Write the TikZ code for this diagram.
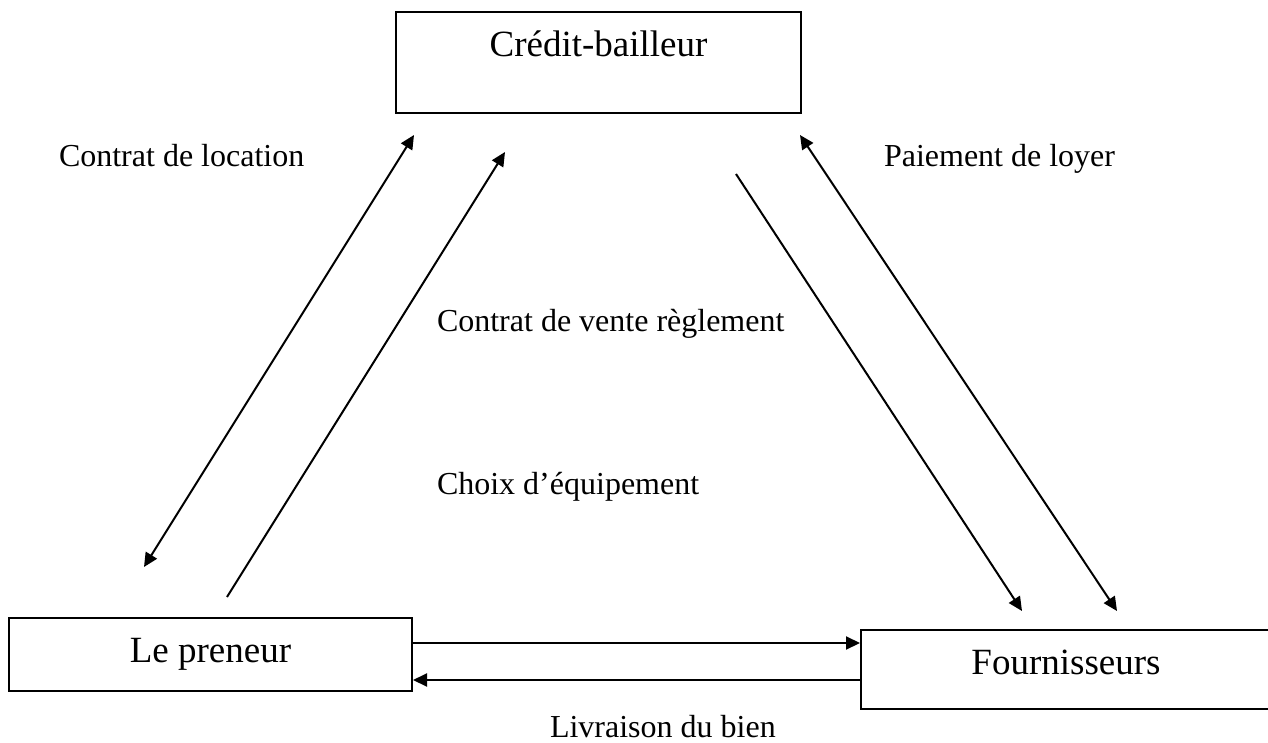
\documentclass[tikz,border=0pt]{standalone}
\usepackage{fontspec}
\setmainfont{Liberation Serif}
\usetikzlibrary{arrows.meta}
\begin{document}
\begin{tikzpicture}[x=0.5pt,y=-0.5pt,>={Triangle[length=7pt,width=6.5pt]},line width=1pt,
  boite/.style={draw,inner sep=0pt,font=\fontsize{18.5}{22}\selectfont},
  etiq/.style={anchor=base west,inner sep=0pt,font=\fontsize{16}{19}\selectfont}]
\useasboundingbox (0,0) rectangle (1268,743);
\node[boite,minimum width=202.5pt,minimum height=50.5pt,text height=13pt,text depth=18.5pt](bailleur) at (598.5,62.5){Crédit-bailleur};
\node[boite,minimum width=201.5pt,minimum height=36.5pt](preneur) at (210.5,654.5){Le preneur};
\node[boite,minimum width=205pt,minimum height=39.5pt,text height=12.25pt,text depth=7.75pt](fourn) at (1066,669.5){Fournisseurs};

\coordinate (locbas) at (144,567);
\coordinate (lochaut) at (414,135);
\coordinate (choixbas) at (227,597);
\coordinate (choixhaut) at (505,152);
\coordinate (ventehaut) at (736,174);
\coordinate (ventebas) at (1022,611);
\coordinate (loyerhaut) at (800,135);
\coordinate (loyerbas) at (1117,611);

\draw[<->](locbas)--(lochaut);
\draw[->](choixbas)--(choixhaut);
\draw[->](ventehaut)--(ventebas);
\draw[<->](loyerbas)--(loyerhaut);
\draw[->](preneur.east |- 0,643)--(fourn.west |- 0,643);
\draw[->](fourn.west |- 0,680)--(preneur.east |- 0,680);

\node[etiq](location) at (58,167){Contrat de location};
\node[etiq](loyer) at (883,167){Paiement de loyer};
\node[etiq](vente) at (436,331){Contrat de vente règlement};
\node[etiq](choix) at (436,494){Choix d’équipement};
\node[etiq](livraison) at (549,737){Livraison du bien};
\end{tikzpicture}
\end{document}
